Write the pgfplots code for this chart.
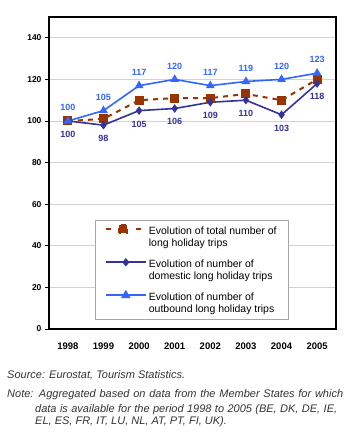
\documentclass[border=0pt]{standalone}
\usepackage{pgfplots}
\pgfplotsset{compat=1.18}
\usepackage{fontspec}
\setmainfont{Liberation Sans}
\definecolor{outb}{RGB}{51,102,255}
\definecolor{dom}{RGB}{51,51,153}
\definecolor{tot}{RGB}{153,51,0}
\pgfplotsset{
 totleg/.style={legend image code/.code={
   \path (0pt,-12pt) (0pt,13pt);
   \draw[tot, line width=2pt, solid, dash pattern=on 5pt off 25pt] (0pt,8pt) -- (35pt,8pt);
   \fill[tot] (13.5pt,4pt) rectangle (21.5pt,12pt);}},
 domleg/.style={legend image code/.code={
   \path (0pt,-12pt) (0pt,13pt);
   \draw[dom, line width=2pt, solid] (0pt,8pt) -- (40pt,8pt);
   \fill[dom] (20pt,11pt) -- (22.5pt,8pt) -- (20pt,5pt) -- (17.5pt,8pt) -- cycle;}},
 outleg/.style={legend image code/.code={
   \path (0pt,-12pt) (0pt,13pt);
   \draw[outb, line width=2pt, solid] (0pt,8pt) -- (40pt,8pt);
   \fill[outb] (20pt,12pt) -- (23.5pt,6pt) -- (16.5pt,6pt) -- cycle;}},
}
\begin{document}
\begin{tikzpicture}
\useasboundingbox (0pt,0pt) rectangle (350pt,446pt);
\begin{axis}[at={(49pt,117pt)}, anchor=south west, scale only axis,
 width=287pt, height=312pt,
 xmin=-0.53, xmax=7.53, ymin=0, ymax=150,
 xtick={0,1,2,3,4,5,6,7},
 xticklabels={1998,1999,2000,2001,2002,2003,2004,2005},
 ytick={0,20,40,60,80,100,120,140},
 ytick pos=left,
 ymajorgrids, grid style={gray!35, line width=0.6pt},
 axis line style={line width=1.2pt},
 xtick style={draw=none},
 ytick style={black, line width=0.6pt}, tick align=outside, major tick length=4pt,
 yticklabel style={font=\fontsize{8.5}{10}\selectfont\bfseries},
 xticklabel style={font=\fontsize{9.5}{10}\selectfont\bfseries, yshift=-6pt},
 /pgf/number format/assume math mode=true,
 legend style={at={(0.159,0.35)}, anchor=north west, draw=gray!70,
   font=\fontsize{10.5}{12}\selectfont, cells={align=left}, row sep=6.5pt,
   inner xsep=10pt, inner ysep=3pt},
 legend cell align=left,
]
\addplot[tot, line width=2pt, dash pattern=on 5pt off 5pt, mark=square*, mark size=3.5pt,
  mark options={solid}, totleg]
 coordinates {(0,100) (1,101) (2,110) (3,111) (4,111) (5,113) (6,110) (7,120)};
\addlegendentry{Evolution of total number of\\long holiday trips}
\addplot[dom, line width=1.6pt, mark=diamond*, mark size=3pt,
  nodes near coords, every node near coord/.append style={below, yshift=-6pt,
  font=\fontsize{9}{10}\selectfont\bfseries, text=dom}, domleg]
 coordinates {(0,100) (1,98) (2,105) (3,106) (4,109) (5,110) (6,103) (7,118)};
\addlegendentry{Evolution of number of\\domestic long holiday trips}
\addplot[outb, line width=1.6pt, mark=triangle*, mark size=3.5pt,
  nodes near coords, every node near coord/.append style={above, yshift=6pt,
  font=\fontsize{9}{10}\selectfont\bfseries, text=outb}, outleg]
 coordinates {(0,100) (1,105) (2,117) (3,120) (4,117) (5,119) (6,120) (7,123)};
\addlegendentry{Evolution of number of\\outbound long holiday trips}
\end{axis}
\begin{scope}[every node/.style={font=\fontsize{11}{13}\selectfont\itshape, text=black!80, inner sep=0pt}]
\node[anchor=west] at (7pt,71pt) {Source: Eurostat, Tourism Statistics.};
\node[anchor=west] at (7pt,51pt) {\makebox[336pt][s]{Note: Aggregated based on data from the Member States for which}};
\node[anchor=west] at (35pt,36pt) {\makebox[302pt][s]{data is available for the period 1998 to 2005 (BE, DK, DE, IE,}};
\node[anchor=west] at (35pt,24pt) {EL, ES, FR, IT, LU, NL, AT, PT, FI, UK).};
\end{scope}
\end{tikzpicture}
\end{document}
